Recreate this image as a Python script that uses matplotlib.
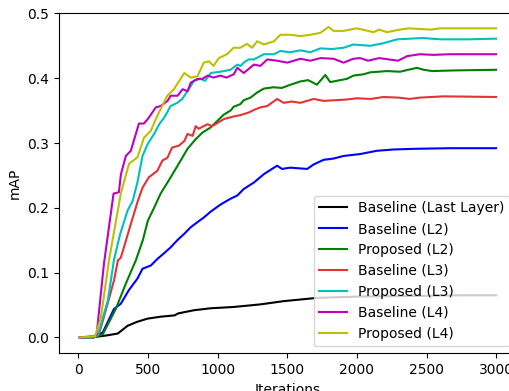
import matplotlib
matplotlib.use("Agg")
import matplotlib.pyplot as plt

# Baseline (Last Layer)
black_x = [10, 125, 200, 282, 353, 420, 496, 590, 690, 715, 830, 950, 1115, 1307, 1474, 1713, 2000, 2400, 2740, 3000]
black_y = [0, 0.001, 0.003, 0.006, 0.018, 0.024, 0.029, 0.032, 0.034, 0.037, 0.042, 0.045, 0.047, 0.051, 0.056, 0.061, 0.063, 0.064, 0.065, 0.065]

# Baseline (L2)
blue_x = [10, 110, 175, 255, 304, 362, 424, 460, 520, 566, 615, 662, 710, 760, 806, 855, 900, 949, 1020, 1092, 1141,
          1187, 1260, 1332, 1390, 1427, 1462, 1520, 1580, 1643, 1690, 1760, 1832, 1904, 2024, 2143, 2262, 2405, 2668, 3000]
blue_y = [0, 0, 0.008, 0.044, 0.052, 0.073, 0.091, 0.106, 0.111, 0.121, 0.13, 0.139, 0.15, 0.16, 0.17, 0.178, 0.185,
          0.194, 0.205, 0.214, 0.219, 0.229, 0.239, 0.252, 0.26, 0.265, 0.26, 0.262, 0.261, 0.26, 0.267, 0.274, 0.276,
          0.28, 0.283, 0.288, 0.29, 0.291, 0.292, 0.292]

# Proposed (L2)
green_x = [10, 110, 175, 268, 340, 412, 462, 498, 543, 590, 662, 734, 783, 842, 890, 949, 997, 1045, 1092, 1115, 1163,
           1187, 1235, 1284, 1332, 1400, 1460, 1523, 1594, 1650, 1713, 1773, 1808, 1880, 1928, 1975, 2047, 2095, 2215,
           2310, 2430, 2480, 2540, 2700, 3000]
green_y = [0, 0, 0.005, 0.044, 0.083, 0.119, 0.15, 0.18, 0.2, 0.222, 0.247, 0.273, 0.291, 0.306, 0.316, 0.324, 0.334,
           0.344, 0.35, 0.356, 0.36, 0.366, 0.37, 0.378, 0.384, 0.386, 0.385, 0.39, 0.395, 0.397, 0.39, 0.405, 0.394,
           0.397, 0.399, 0.404, 0.406, 0.409, 0.411, 0.41, 0.416, 0.413, 0.411, 0.412, 0.413]

# Baseline (L3)
red_x = [10, 110, 147, 200, 255, 283, 304, 362, 376, 424, 460, 505, 566, 603, 638, 673, 722, 760, 783, 820, 842, 863,
         927, 960, 1045, 1115, 1163, 1222, 1260, 1307, 1356, 1427, 1474, 1530, 1594, 1690, 1760, 1840, 1920, 2000, 2100,
         2190, 2300, 2380, 2450, 2620, 3000]
red_y = [0, 0, 0.005, 0.045, 0.088, 0.119, 0.123, 0.165, 0.175, 0.209, 0.231, 0.247, 0.257, 0.273, 0.277, 0.293, 0.296,
         0.303, 0.314, 0.311, 0.326, 0.322, 0.329, 0.326, 0.337, 0.341, 0.343, 0.347, 0.351, 0.355, 0.357, 0.368, 0.362,
         0.364, 0.362, 0.368, 0.365, 0.366, 0.367, 0.369, 0.368, 0.371, 0.37, 0.368, 0.37, 0.372, 0.371]

# Proposed (L3)
cyan_x = [10, 110, 140, 211, 255, 300, 353, 390, 424, 460, 496, 543, 580, 615, 662, 710, 745, 783, 830, 875, 910, 950,
          1020, 1092, 1141, 1165, 1187, 1222, 1260, 1332, 1404, 1450, 1520, 1594, 1666, 1737, 1820, 1904, 1975, 2095,
          2190, 2290, 2475, 2600, 2800, 3000]
cyan_y = [0, 0, 0.004, 0.057, 0.12, 0.16, 0.196, 0.211, 0.24, 0.28, 0.298, 0.314, 0.329, 0.339, 0.357, 0.362, 0.368,
          0.38, 0.396, 0.399, 0.396, 0.408, 0.41, 0.413, 0.421, 0.419, 0.424, 0.429, 0.429, 0.437, 0.437, 0.442, 0.44,
          0.443, 0.44, 0.446, 0.445, 0.447, 0.452, 0.45, 0.454, 0.46, 0.462, 0.46, 0.46, 0.461]

# Baseline (L4)
magenta_x = [10, 110, 130, 183, 252, 290, 305, 340, 376, 412, 434, 470, 505, 555, 590, 640, 662, 712, 748, 784, 806,
             855, 890, 927, 970, 1020, 1063, 1115, 1141, 1187, 1260, 1307, 1356, 1427, 1500, 1594, 1666, 1737, 1832,
             1904, 1975, 2024, 2080, 2160, 2296, 2360, 2453, 2550, 2668, 3000]
magenta_y = [0, 0.002, 0.004, 0.114, 0.222, 0.224, 0.252, 0.28, 0.288, 0.314, 0.33, 0.33, 0.339, 0.355, 0.357, 0.365,
             0.373, 0.373, 0.383, 0.38, 0.393, 0.399, 0.399, 0.404, 0.401, 0.404, 0.401, 0.406, 0.416, 0.408, 0.421,
             0.419, 0.429, 0.427, 0.424, 0.43, 0.427, 0.431, 0.43, 0.424, 0.43, 0.431, 0.427, 0.431, 0.427, 0.434,
             0.437, 0.436, 0.437, 0.437]

# Proposed (L4)
yellow_x = [10, 120, 160, 220, 304, 363, 424, 470, 520, 566, 638, 685, 760, 806, 855, 900, 937, 970, 1008, 1067, 1115,
            1163, 1211, 1247, 1284, 1332, 1404, 1450, 1523, 1594, 1666, 1737, 1797, 1832, 1904, 2000, 2120, 2160, 2215,
            2310, 2370, 2528, 2600, 3000]
yellow_y = [0, 0.002, 0.03, 0.12, 0.222, 0.268, 0.278, 0.308, 0.319, 0.342, 0.373, 0.383, 0.408, 0.401, 0.403, 0.424,
            0.426, 0.419, 0.431, 0.437, 0.447, 0.447, 0.453, 0.447, 0.457, 0.452, 0.457, 0.467, 0.467, 0.465, 0.467,
            0.47, 0.479, 0.473, 0.473, 0.477, 0.471, 0.475, 0.471, 0.475, 0.477, 0.475, 0.477, 0.477]

fig = plt.figure(figsize=(5.10, 3.91), dpi=100)
ax = fig.add_axes([0.1157, 0.0964, 0.898, 0.871])

ax.plot(black_x, black_y, 'k', label='Baseline (Last Layer)')
ax.plot(blue_x, blue_y, 'b', label='Baseline (L2)')
ax.plot(green_x, green_y, 'g', label='Proposed (L2)')
ax.plot(red_x, red_y, color='#e33333', label='Baseline (L3)')
ax.plot(cyan_x, cyan_y, 'c', label='Proposed (L3)')
ax.plot(magenta_x, magenta_y, 'm', label='Baseline (L4)')
ax.plot(yellow_x, yellow_y, 'y', label='Proposed (L4)')

ax.set_xlim(-140, 3150)
ax.set_ylim(-0.0245, 0.501)
ax.set_xlabel('Iterations')
ax.set_ylabel('mAP')
ax.legend(loc='lower right')

fig.savefig('out.png', dpi=100)
